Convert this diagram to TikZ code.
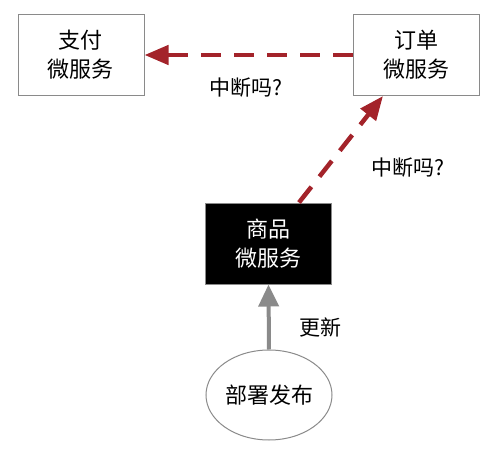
\documentclass[tikz,border=0pt]{standalone}
\usepackage{fontspec}
\setmainfont{Noto Sans CJK SC}
\usetikzlibrary{arrows.meta,shapes.geometric}
\definecolor{darkred}{HTML}{A3232A}
\definecolor{boxgray}{HTML}{8A8A8A}
\begin{document}
\begin{tikzpicture}[x=1pt,y=-1pt,
  svc/.style={draw=boxgray,line width=1pt,minimum width=126pt,minimum height=81pt,inner sep=0pt,align=center,font=\fontsize{22}{29}\selectfont},
  dark/.style={svc,fill=black,text=white},
  lbl/.style={font=\fontsize{21}{24}\selectfont,inner sep=0pt},
  redarrow/.style={draw=darkred,line width=4.5pt,dash pattern=on 20pt off 13pt,-{Triangle[length=24pt,width=19pt]}},
  grayarrow/.style={draw=boxgray,line width=4pt,-{Triangle[length=22pt,width=20pt]}}
]
\useasboundingbox (0,0) rectangle (499,450);
\node[svc] (pay) at (81,55) {支付\\微服务};
\node[svc] (order) at (416,55) {订单\\微服务};
\node[dark] (prod) at (268.5,243.5) {商品\\微服务};
\node[draw=boxgray,line width=1pt,ellipse,minimum width=126pt,minimum height=90pt,inner sep=0pt,font=\fontsize{22}{25}\selectfont] (dep) at (269,395) {部署发布};
\draw[redarrow] (order.west) -- (pay.east);
\draw[redarrow] (prod.north -| 299,0) -- (order.south -| 383,0);
\draw[grayarrow] (dep.north) -- (prod.south);
\node[lbl] (l1) at (246,88) {中断吗?};
\node[lbl] (l2) at (408,168) {中断吗?};
\node[lbl] (l3) at (320,327) {更新};
\end{tikzpicture}
\end{document}
